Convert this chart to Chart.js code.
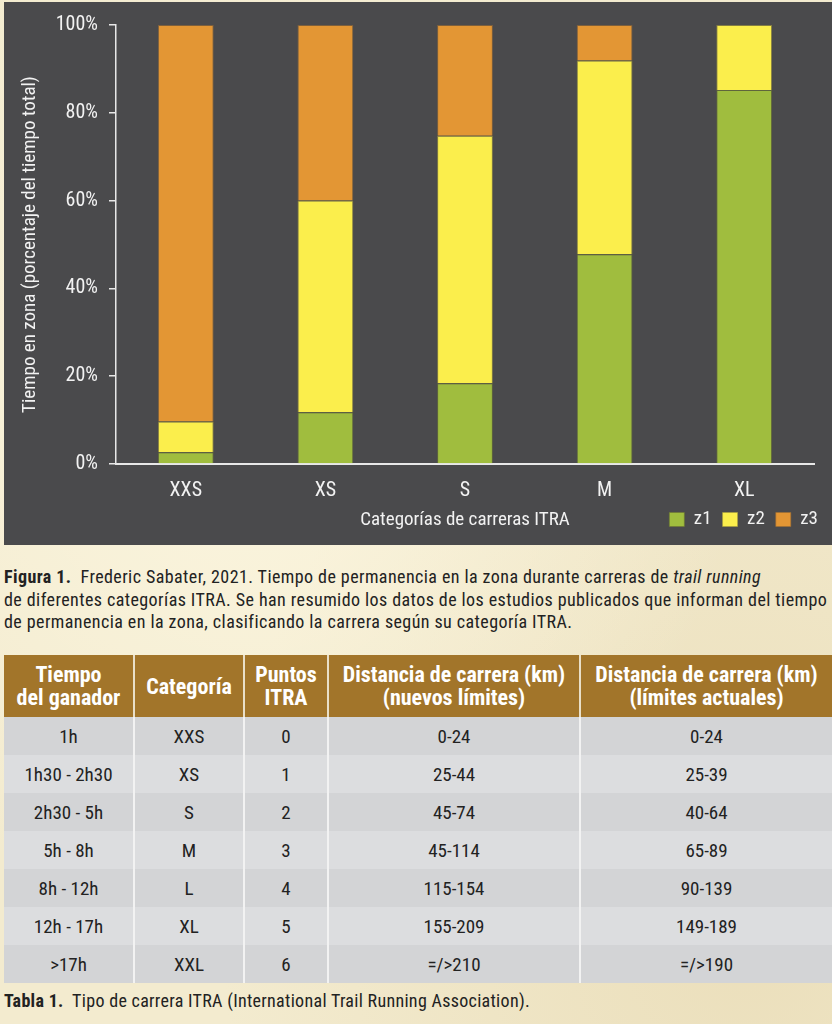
<!DOCTYPE html>
<html lang="es">
<head>
<meta charset="utf-8">
<title>Tiempo en zona por categoría ITRA</title>
<script src="https://cdn.jsdelivr.net/npm/chart.js@4.4.1/dist/chart.umd.min.js"></script>
<style>
  html, body {
    margin: 0;
    padding: 0;
  }
  body {
    width: 832px;
    height: 1024px;
    position: relative;
    overflow: hidden;
    font-family: 'Roboto Condensed', 'DejaVu Sans Condensed', sans-serif;
    background: #f3ebcf;
    background-image:
      radial-gradient(ellipse at 30% 40%, rgba(255, 250, 230, 0.7), rgba(255, 250, 230, 0) 60%),
      radial-gradient(ellipse at 90% 90%, rgba(220, 200, 150, 0.35), rgba(220, 200, 150, 0) 50%);
  }
  #panel {
    position: absolute;
    left: 4px;
    top: 2px;
    width: 828px;
    height: 543px;
    background: #4a4a4c;
  }
  .caption {
    position: absolute;
    left: 4px;
    font-size: 18px;
    letter-spacing: 0.42px;
    line-height: 22.5px;
    color: #222;
    white-space: nowrap;
  }
  .caption b {
    font-weight: bold;
  }
  #itra {
    position: absolute;
    left: 4px;
    top: 655px;
    width: 828px;
    border-collapse: collapse;
    table-layout: fixed;
    text-align: center;
    color: #222;
  }
  #itra th {
    background: #a2752a;
    color: #fff;
    font-size: 22px;
    line-height: 23px;
    height: 62px;
    padding: 0;
    border-left: 2px solid #e9dfc8;
    white-space: nowrap;
  }
  #itra td {
    font-size: 19px;
    height: 38px;
    padding: 0;
    border-left: 2px solid #f2f2f2;
  }
  #itra th:first-child, #itra td:first-child {
    border-left: none;
  }
  #itra tbody tr:nth-child(odd) td {
    background: #d3d4d6;
  }
  #itra tbody tr:nth-child(even) td {
    background: #dcdddf;
  }
</style>
</head>
<body>

<div id="panel"><canvas id="zonas"></canvas></div>

<div class="caption" style="top:566px">
  <b>Figura 1.</b>&nbsp; Frederic Sabater, 2021. Tiempo de permanencia en la zona durante carreras de <i>trail running</i><br>
  de diferentes categorías ITRA. Se han resumido los datos de los estudios publicados que informan del tiempo<br>
  de permanencia en la zona, clasificando la carrera según su categoría ITRA.
</div>

<table id="itra">
  <colgroup>
    <col style="width:130px"><col style="width:110px"><col style="width:84px"><col style="width:252px"><col style="width:252px">
  </colgroup>
  <thead>
    <tr>
      <th>Tiempo<br>del ganador</th>
      <th>Categoría</th>
      <th>Puntos<br>ITRA</th>
      <th>Distancia de carrera (km)<br>(nuevos límites)</th>
      <th>Distancia de carrera (km)<br>(límites actuales)</th>
    </tr>
  </thead>
  <tbody id="itra-body"></tbody>
</table>

<div class="caption" style="top:990px; letter-spacing:0.3px">
  <b>Tabla 1.</b>&nbsp; Tipo de carrera ITRA (International Trail Running Association).
</div>

<script>
// chart data
const categories = ["XXS", "XS", "S", "M", "XL"];
const z1 = [2.7, 11.8, 18.4, 47.8, 85.2];
const z2 = [7.0, 48.2, 56.4, 44.1, 14.8];
const z3 = [90.3, 40.0, 25.2, 8.1, 0];
const yTicks = [0, 20, 40, 60, 80, 100];

// table data
const winnerTimes = ["1h", "1h30 - 2h30", "2h30 - 5h", "5h - 8h", "8h - 12h", "12h - 17h", ">17h"];
const raceCats = ["XXS", "XS", "S", "M", "L", "XL", "XXL"];
const itraPoints = ["0", "1", "2", "3", "4", "5", "6"];
const newLimits = ["0-24", "25-44", "45-74", "45-114", "115-154", "155-209", "=/>210"];
const currentLimits = ["0-24", "25-39", "40-64", "65-89", "90-139", "149-189", "=/>190"];

const FONT = "'Roboto Condensed', 'DejaVu Sans Condensed', sans-serif";
const GREEN = "#a0bd3e";
const YELLOW = "#fbee4c";
const ORANGE = "#e39634";

// fill the table
const tbody = document.getElementById("itra-body");
for (let i = 0; i < winnerTimes.length; i++) {
  const tr = document.createElement("tr");
  [winnerTimes[i], raceCats[i], itraPoints[i], newLimits[i], currentLimits[i]].forEach(function (txt) {
    const td = document.createElement("td");
    td.textContent = txt;
    tr.appendChild(td);
  });
  tbody.appendChild(tr);
}

// shift legend so its last label ends on the plot's right edge
const legendShift = {
  id: "legendShift",
  afterLayout: function (chart) {
    const lg = chart.legend;
    const pad = lg.options.labels.padding + 4;
    lg.left += pad;
    lg.right += pad;
  }
};

Chart.defaults.font.family = FONT;
Chart.defaults.color = "#f2f2f2";

const data = {
  labels: categories,
  datasets: [
    { label: "z1", data: z1, backgroundColor: GREEN, borderColor: "rgba(110,120,50,0.6)" },
    { label: "z2", data: z2, backgroundColor: YELLOW, borderColor: "rgba(170,160,60,0.6)" },
    { label: "z3", data: z3, backgroundColor: ORANGE, borderColor: "rgba(160,110,50,0.6)" }
  ]
};
data.datasets.forEach(function (ds) {
  ds.borderWidth = 1;
  ds.barPercentage = 0.4;
  ds.categoryPercentage = 1.0;
});

const config = {
  type: "bar",
  data: data,
  options: {
    responsive: true,
    maintainAspectRatio: false,
    animation: false,
    layout: {
      padding: { left: 0, top: 22, right: 18, bottom: 6 }
    },
    scales: {
      x: {
        stacked: true,
        grid: { display: false, drawTicks: false },
        border: { display: true, color: "#e8e8e8", width: 2 },
        ticks: {
          font: { size: 20 },
          color: "#f2f2f2",
          padding: 15
        },
        title: {
          display: true,
          text: "Categorías de carreras ITRA",
          font: { size: 19 },
          color: "#f2f2f2",
          padding: { top: 0, bottom: -33 }
        },
        afterFit: function (scale) {
          scale.height = 35;
        }
      },
      y: {
        stacked: true,
        min: 0,
        max: 100,
        afterBuildTicks: function (scale) {
          scale.ticks = yTicks.map(function (v) { return { value: v }; });
        },
        grid: {
          drawOnChartArea: false,
          drawTicks: true,
          tickLength: 7,
          color: "#e8e8e8",
          lineWidth: 1.5
        },
        border: { display: true, color: "#e8e8e8", width: 1.5 },
        ticks: {
          font: { size: 20 },
          color: "#f2f2f2",
          padding: 11,
          callback: function (v) { return v + "%"; }
        },
        title: {
          display: true,
          text: "Tiempo en zona (porcentaje del tiempo total)",
          font: { size: 19 },
          color: "#f2f2f2",
          padding: { top: 15, bottom: 0 }
        },
        afterFit: function (scale) {
          scale.width = 112;
        }
      }
    },
    plugins: {
      legend: {
        position: "bottom",
        align: "end",
        labels: {
          boxWidth: 15,
          boxHeight: 14,
          padding: 11,
          font: { size: 19 },
          color: "#f2f2f2"
        }
      },
      tooltip: { enabled: false }
    }
  },
  plugins: [legendShift]
};

new Chart(document.getElementById("zonas"), config);
</script>
</body>
</html>
